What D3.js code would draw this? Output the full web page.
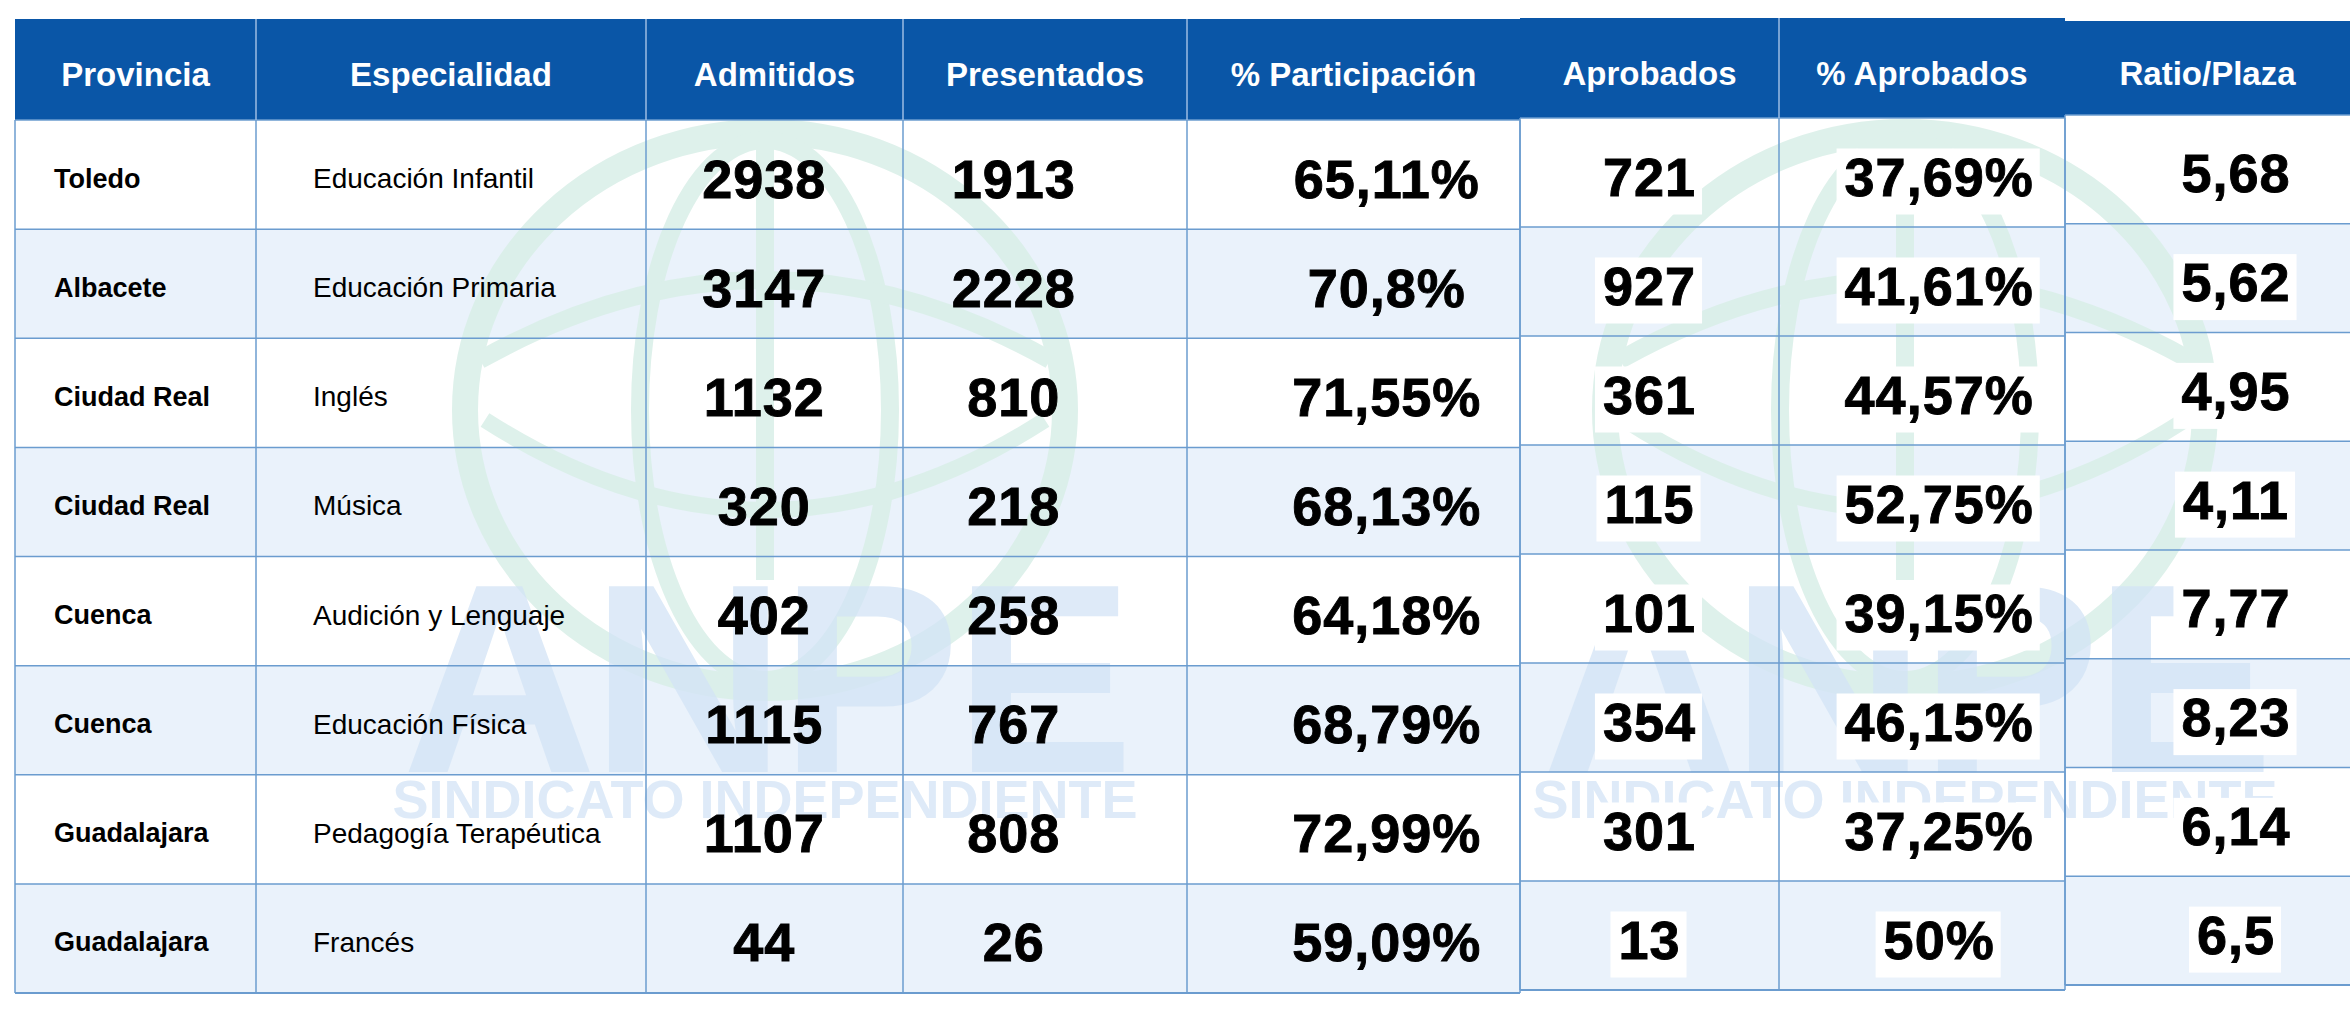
<!DOCTYPE html>
<html>
<head>
<meta charset="utf-8">
<script src="https://cdn.jsdelivr.net/npm/d3@7"></script>
<style>
  body { margin: 0; background: #ffffff; }
  svg { display: block; }
</style>
</head>
<body>
<div id="chart"></div>
<script>
// Table data
const headers = ["Provincia", "Especialidad", "Admitidos", "Presentados", "% Participación", "Aprobados", "% Aprobados", "Ratio/Plaza"];
const provincias = ["Toledo", "Albacete", "Ciudad Real", "Ciudad Real", "Cuenca", "Cuenca", "Guadalajara", "Guadalajara"];
const especialidades = ["Educación Infantil", "Educación Primaria", "Inglés", "Música", "Audición y Lenguaje", "Educación Física", "Pedagogía Terapéutica", "Francés"];
const admitidos = [2938, 3147, 1132, 320, 402, 1115, 1107, 44];
const presentados = [1913, 2228, 810, 218, 258, 767, 808, 26];
const participacion = [65.11, 70.8, 71.55, 68.13, 64.18, 68.79, 72.99, 59.09];
const aprobados = [721, 927, 361, 115, 101, 354, 301, 13];
const pctAprobados = [37.69, 41.61, 44.57, 52.75, 39.15, 46.15, 37.25, 50];
const ratioPlaza = [5.68, 5.62, 4.95, 4.11, 7.77, 8.23, 6.14, 6.5];

const W = 2350, H = 1024;
const BLUE = "#0a56a7", ALT = "#eaf2fb", GRID = "#6b9ccf";

// comma decimals, as in the original
const es = v => String(v).replace(".", ",");
const pct = v => es(v) + "%";

// three pasted sections, each with its own vertical frame
const sections = [
  { cols: [0, 1, 2, 3, 4], edges: [15, 256, 646, 903, 1187, 1520], top: 19, hb: 120, bottom: 993 },
  { cols: [5, 6], edges: [1520, 1779, 2065], top: 18, hb: 118, bottom: 990 },
  { cols: [7], edges: [2065, 2350], top: 21, hb: 115, bottom: 985 }
];

// cell content per column
const columns = [
  { values: provincias, fmt: d => d, kind: "prov", font: 27 },
  { values: especialidades, fmt: d => d, kind: "esp", font: 28 },
  { values: admitidos, fmt: d => d, kind: "num", xf: 0.46 },
  { values: presentados, fmt: d => d, kind: "num", xf: 0.39 },
  { values: participacion, fmt: pct, kind: "num", xf: 0.60 },
  { values: aprobados, fmt: d => d, kind: "num", xf: 0.50, patch: true },
  { values: pctAprobados, fmt: pct, kind: "num", xf: 0.56, patch: true },
  { values: ratioPlaza, fmt: es, kind: "num", xf: 0.60, patch: true }
];

const svg = d3.select("#chart").append("svg")
  .attr("width", W).attr("height", H)
  .style("font-family", "'Liberation Sans', Arial, sans-serif");

svg.append("rect").attr("width", W).attr("height", H).attr("fill", "#ffffff");

const rowIdx = d3.range(provincias.length);

// row backgrounds
sections.forEach(s => {
  s.y = d3.scaleBand().domain(rowIdx).range([s.hb, s.bottom]);
  const x0 = s.edges[0], x1 = s.edges[s.edges.length - 1];
  svg.append("g").selectAll("rect").data(rowIdx).join("rect")
    .attr("x", x0).attr("width", x1 - x0)
    .attr("y", i => s.y(i)).attr("height", s.y.bandwidth())
    .attr("fill", i => i % 2 ? ALT : "#ffffff");
});

// faint logo watermark (globe + ANPE), twice
function watermark(cx) {
  const g = svg.append("g").attr("pointer-events", "none")
    .attr("fill", "none").attr("stroke", "#d9efe8").attr("opacity", 0.85);
  g.append("ellipse").attr("cx", cx).attr("cy", 410).attr("rx", 300).attr("ry", 278)
    .attr("stroke-width", 26);
  g.append("ellipse").attr("cx", cx).attr("cy", 410).attr("rx", 125).attr("ry", 270)
    .attr("stroke-width", 18);
  g.append("path")
    .attr("d", `M${cx - 285},360 Q${cx},200 ${cx + 285},360`)
    .attr("stroke-width", 18);
  g.append("path")
    .attr("d", `M${cx - 280},420 Q${cx},600 ${cx + 280},420`)
    .attr("stroke-width", 16);
  g.append("line").attr("x1", cx).attr("x2", cx).attr("y1", 140).attr("y2", 580)
    .attr("stroke-width", 18);

  const t = svg.append("g").attr("pointer-events", "none")
    .attr("fill", "#d3e4f6").attr("opacity", 0.75).attr("text-anchor", "middle");
  t.append("text").attr("x", cx).attr("y", 772)
    .attr("font-size", 270).attr("font-weight", 900)
    .attr("letter-spacing", -6).text("ANPE");
  t.append("text").attr("x", cx).attr("y", 818)
    .attr("font-size", 54).attr("font-weight", 700)
    .text("SINDICATO INDEPENDIENTE");
}
watermark(765);
watermark(1905);

sections.forEach(s => {
  const x0 = s.edges[0], x1 = s.edges[s.edges.length - 1];

  // header band
  svg.append("rect").attr("x", x0).attr("y", s.top)
    .attr("width", x1 - x0).attr("height", s.hb - s.top).attr("fill", BLUE);

  s.cols.forEach((c, k) => {
    const cl = s.edges[k], cr = s.edges[k + 1];
    svg.append("text")
      .attr("x", (cl + cr) / 2).attr("y", (s.top + s.hb) / 2 + 5)
      .attr("text-anchor", "middle").attr("dominant-baseline", "central")
      .attr("fill", "#ffffff").attr("font-weight", 700)
      .attr("font-size", 33)
      .text(headers[c]);
  });

  // cells
  s.cols.forEach((c, k) => {
    const col = columns[c];
    const cl = s.edges[k], cr = s.edges[k + 1];
    const g = svg.append("g");
    const cells = g.selectAll("g").data(rowIdx).join("g");

    let tx, anchor;
    if (col.kind === "prov") { tx = cl + 39; anchor = "start"; }
    else if (col.kind === "esp") { tx = cl + 57; anchor = "start"; }
    else { tx = cl + (cr - cl) * col.xf; anchor = "middle"; }

    const texts = cells.append("text")
      .attr("x", tx)
      .attr("y", i => s.y(i) + s.y.bandwidth() / 2 + (col.kind === "num" ? 4 : 4))
      .attr("text-anchor", anchor).attr("dominant-baseline", "central")
      .attr("fill", "#000000")
      .attr("stroke", col.kind === "num" ? "#000000" : "none")
      .attr("stroke-width", 0.9)
      .attr("font-weight", col.kind === "esp" ? 400 : 700)
      .attr("font-size", col.kind === "num" ? 54 : col.font)
      .attr("letter-spacing", col.kind === "num" ? 1 : 0)
      .text(i => col.fmt(col.values[i]));

    // white pasted patches behind the right-hand figures
    if (col.patch) {
      texts.each(function (i) {
        const b = this.getBBox();
        d3.select(this.parentNode).insert("rect", "text")
          .attr("x", b.x - 8).attr("y", b.y + 2)
          .attr("width", b.width + 14).attr("height", b.height + 6)
          .attr("fill", "#ffffff");
      });
    }
  });

  // grid lines
  const gl = svg.append("g").attr("stroke", GRID).attr("stroke-width", 1.5);
  s.y.domain().slice(1).forEach(i => {
    gl.append("line").attr("x1", x0).attr("x2", x1)
      .attr("y1", s.y(i)).attr("y2", s.y(i));
  });
  gl.append("line").attr("x1", x0).attr("x2", x1)
    .attr("y1", s.bottom).attr("y2", s.bottom).attr("stroke-width", 2);
  gl.append("line").attr("x1", x0).attr("x2", x1)
    .attr("y1", s.hb).attr("y2", s.hb);
  s.edges.forEach((e, k) => {
    if (e >= W) return;
    gl.append("line").attr("x1", e).attr("x2", e)
      .attr("y1", s.hb).attr("y2", s.bottom);
    if (k > 0 && k < s.edges.length - 1) {
      svg.append("line").attr("x1", e).attr("x2", e)
        .attr("y1", s.top).attr("y2", s.hb)
        .attr("stroke", "#9dbde3").attr("stroke-width", 1.5);
    }
  });
});
</script>
</body>
</html>
